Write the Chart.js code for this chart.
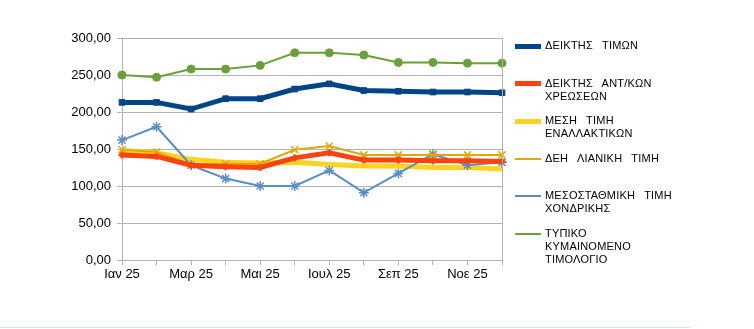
<!DOCTYPE html>
<html>
<head>
<meta charset="utf-8">
<script src="https://cdn.jsdelivr.net/npm/chart.js@4"></script>
<style>
  body { margin: 0; background: #fff; }
  #wrap { position: relative; width: 754px; height: 329px; }
  #legend { position: absolute; left: 515px; top: 39px; font: 11px "Liberation Sans", Arial, sans-serif; color: #000; }
  .item { display: flex; align-items: flex-start; height: 37.5px; }
  .swatch { width: 26px; margin-top: 6px; margin-right: 4px; }
  .txt { white-space: pre-line; line-height: 13px; word-spacing: 6px; letter-spacing: 0.2px; }
  #footline { position: absolute; left: 0; top: 327px; width: 690px; height: 1px; background: #c6f5c6; }
</style>
</head>
<body>
<div id="wrap">
  <canvas id="chart" width="754" height="329"></canvas>
  <div id="legend"></div>
  <div id="footline"></div>
</div>
<script>
  const months = ["Ιαν 25", "Φεβ 25", "Μαρ 25", "Απρ 25", "Μαι 25", "Ιουν 25",
                  "Ιουλ 25", "Αυγ 25", "Σεπ 25", "Οκτ 25", "Νοε 25", "Δεκ 25"];

  const seriesNames = [
    "ΔΕΙΚΤΗΣ ΤΙΜΩΝ",
    "ΔΕΙΚΤΗΣ ΑΝΤ/ΚΩΝ\nΧΡΕΩΣΕΩΝ",
    "ΜΕΣΗ ΤΙΜΗ\nΕΝΑΛΛΑΚΤΙΚΩΝ",
    "ΔΕΗ ΛΙΑΝΙΚΗ ΤΙΜΗ",
    "ΜΕΣΟΣΤΑΘΜΙΚΗ ΤΙΜΗ\nΧΟΝΔΡΙΚΗΣ",
    "ΤΥΠΙΚΟ\nΚΥΜΑΙΝΟΜΕΝΟ\nΤΙΜΟΛΟΓΙΟ"
  ];

  const priceIndex    = [213, 213, 204, 218, 218, 231, 238, 229, 228, 227, 227, 226];
  const chargesIndex  = [142, 140, 128, 126, 125, 138, 145, 135, 135, 134, 134, 133];
  const altAverage    = [148, 145, 136, 132, 131, 132, 129, 127, 127, 125, 125, 123];
  const deiRetail     = [149, 146, 129, 130, 130, 149, 154, 142, 142, 142, 142, 142];
  const wholesaleAvg  = [162, 180, 128, 110, 100, 100, 121, 91, 117, 143, 128, 132];
  const floatingTariff = [250, 247, 258, 258, 263, 280, 280, 277, 267, 267, 266, 266];

  const yTicks = [0, 50, 100, 150, 200, 250, 300];

  const colors = ["#004586", "#ff420e", "#ffd320", "#e0a800", "#5a8fc6", "#6a9f3a"];
  const widths = [5, 5, 5, 2, 2, 2];
  const styles = ["rect", "rectRot", "circle", "crossRot", "star", "circle"];
  const radii = [4, 3.5, 0, 5, 5, 4];
  const allData = [priceIndex, chargesIndex, altAverage, deiRetail, wholesaleAvg, floatingTariff];

  const datasets = allData.map((d, i) => ({
    label: seriesNames[i],
    data: d,
    borderColor: colors[i],
    backgroundColor: colors[i],
    borderWidth: widths[i],
    pointStyle: styles[i],
    pointRadius: radii[i],
    pointBorderWidth: i === 3 || i === 4 ? 1.5 : 1,
    pointHoverRadius: radii[i],
    tension: 0,
    fill: false
  }));
  // yellow sits underneath the others
  datasets[2].order = 5;

  const rightBorder = {
    id: "rightBorder",
    afterDraw(chart) {
      const a = chart.chartArea, ctx = chart.ctx;
      ctx.save();
      ctx.strokeStyle = "#b3b3b3";
      ctx.lineWidth = 1;
      ctx.beginPath();
      ctx.moveTo(Math.round(a.right) + 0.5, a.top);
      ctx.lineTo(Math.round(a.right) + 0.5, a.bottom);
      ctx.stroke();
      ctx.restore();
    }
  };

  new Chart(document.getElementById("chart"), {
    type: "line",
    data: { labels: months, datasets: datasets },
    options: {
      responsive: false,
      animation: false,
      layout: { padding: { left: 0, right: 252, top: 38, bottom: 0 } },
      plugins: { legend: { display: false }, tooltip: { enabled: false } },
      scales: {
        x: {
          offset: false,
          afterFit: s => { s.height = 69; },
          grid: { drawOnChartArea: false, drawTicks: true, tickLength: 5, color: "#b3b3b3" },
          border: { color: "#b3b3b3" },
          ticks: {
            autoSkip: false,
            maxRotation: 0,
            padding: 2,
            color: "#000",
            font: { family: "Liberation Sans", size: 13 },
            callback: (v, i) => (i % 2 === 0 ? months[i] : "")
          }
        },
        y: {
          min: 0,
          max: 300,
          afterFit: s => { s.width = 122; },
          afterBuildTicks: s => { s.ticks = yTicks.map(v => ({ value: v })); },
          grid: { color: "#b3b3b3", tickLength: 5 },
          border: { color: "#b3b3b3" },
          ticks: {
            padding: 6,
            color: "#000",
            font: { family: "Liberation Sans", size: 13 },
            callback: v => v.toFixed(2).replace(".", ",")
          }
        }
      }
    },
    plugins: [rightBorder]
  });

  const legend = document.getElementById("legend");
  seriesNames.forEach((name, i) => {
    const item = document.createElement("div");
    item.className = "item";
    const sw = document.createElement("div");
    sw.className = "swatch";
    sw.style.height = widths[i] + "px";
    sw.style.marginTop = (7 - widths[i] / 2) + "px";
    sw.style.background = colors[i];
    const txt = document.createElement("div");
    txt.className = "txt";
    txt.textContent = name;
    item.appendChild(sw);
    item.appendChild(txt);
    legend.appendChild(item);
  });
</script>
</body>
</html>
